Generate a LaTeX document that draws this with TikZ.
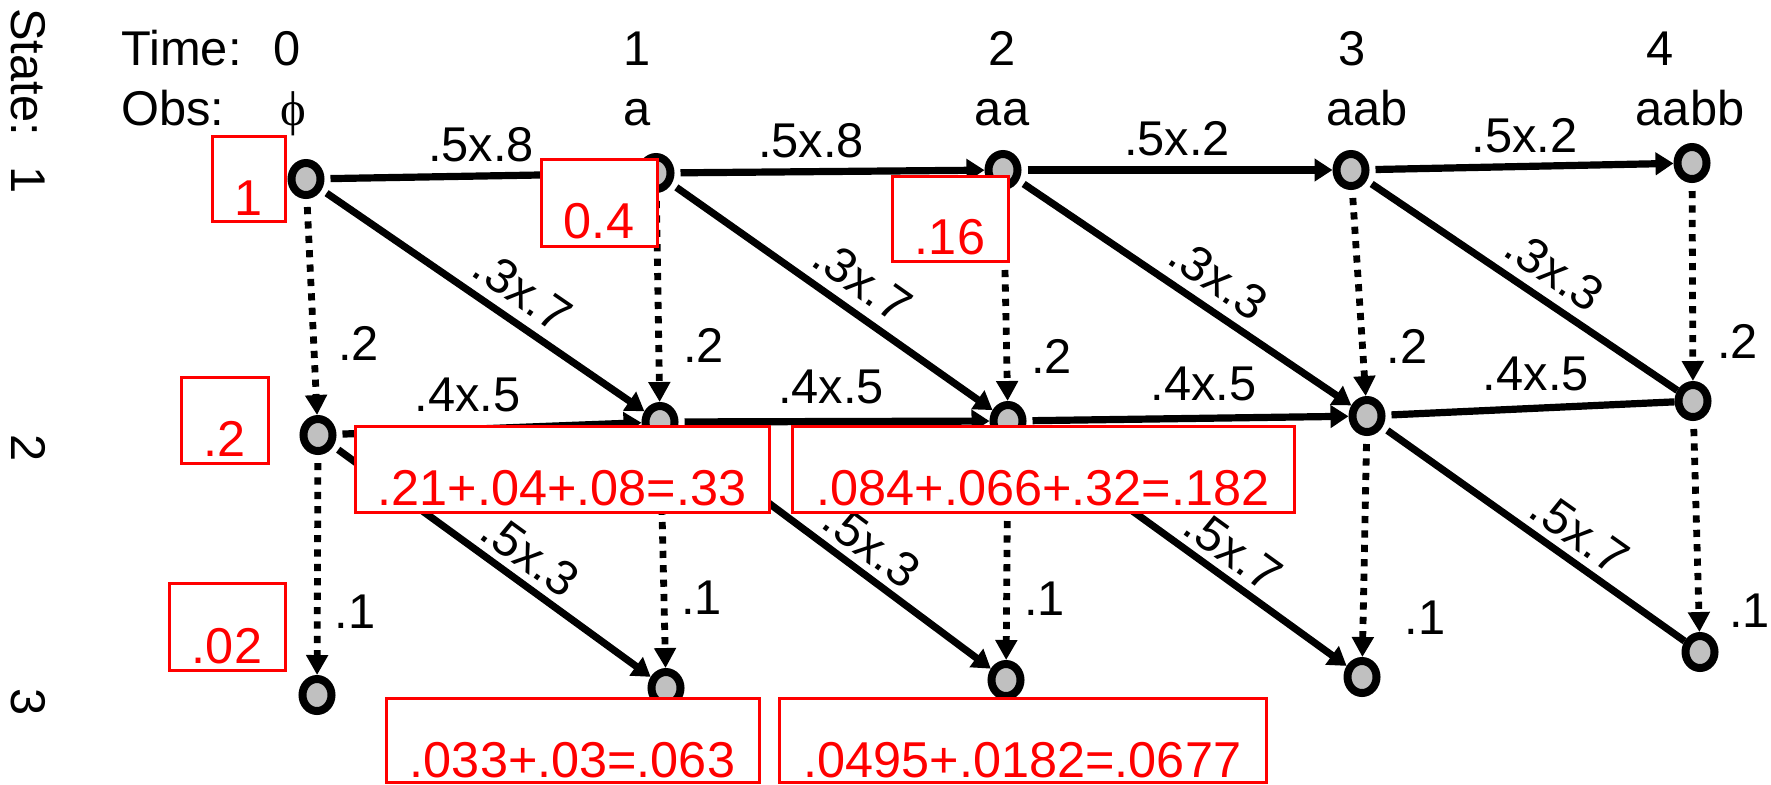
\documentclass[tikz,border=0pt]{standalone}
\usepackage{fontspec}
\setmainfont{Liberation Sans}
\newfontfamily\phifont{Liberation Serif}
\usetikzlibrary{arrows.meta,shapes.geometric,fit}
\definecolor{stategray}{RGB}{192,192,192}
\begin{document}
\begin{tikzpicture}[x=0.5pt,y=-0.5pt,
  txt/.style={font=\fontsize{24.4}{29}\selectfont, inner sep=2pt},
  st/.style={ellipse, draw=black, fill=stategray, line width=4pt,
    minimum width=14.5pt, minimum height=16pt, inner sep=0pt},
  tr/.style={line width=3.6pt, -{Triangle[length=9pt,width=11pt]}, shorten <=3pt},
  trn/.style={line width=3.6pt, shorten <=3pt},
  ob/.style={line width=3.4pt, dash pattern=on 3.6pt off 3.6pt,
    -{Triangle[length=10pt,width=10.5pt]}, shorten <=4pt},
  hl/.style={txt, above=3pt},
  hlb/.style={txt, above=5pt},
  dl/.style={txt, above=3pt, sloped},
  dlb/.style={txt, above=1.5pt, sloped},
  vla/.style={txt, right=8.5pt},
  vlb/.style={txt, right=5pt},
  rbox/.style={draw=red, line width=1.5pt, fill=white, inner sep=0pt},
  rtxt/.style={font=\fontsize{25.2}{30}\selectfont, inner sep=0pt, text=red, anchor=base},
  rowlab/.style={txt, rotate=-90, anchor=base}
]
\useasboundingbox (0,0) rectangle (1771,784);

% headers
\node[rowlab] (statehd) at (11,72) {State:};
\node[rowlab] (row1) at (11,180) {1};
\node[rowlab] (row2) at (11,448) {2};
\node[rowlab] (row3) at (11,702) {3};
\node[txt, anchor=base west] (timehd) at (117,65) {Time:};
\node[txt, anchor=base] (t0) at (287,65) {0};
\node[txt, anchor=base] (t1) at (637,65) {1};
\node[txt, anchor=base] (t2) at (1002,65) {2};
\node[txt, anchor=base] (t3) at (1352,65) {3};
\node[txt, anchor=base] (t4) at (1660,65) {4};
\node[txt, anchor=base west] (obshd) at (117,125) {Obs:};
\node[txt, anchor=base] (o0) at (293,125) {\phifont ϕ};
\node[txt, anchor=base] (o1) at (637,125) {a};
\node[txt, anchor=base] (o2) at (1002,125) {aa};
\node[txt, anchor=base] (o3) at (1367,125) {aab};
\node[txt, anchor=base] (o4) at (1690,125) {aabb};

% states
\node[st] (a1) at (306,179) {};
\node[st] (a2) at (656,173) {};
\node[st] (a3) at (1003,170) {};
\node[st] (a4) at (1351,170) {};
\node[st] (a5) at (1692,163) {};
\node[st] (b1) at (318,435) {};
\node[st] (b2) at (660,422) {};
\node[st] (b3) at (1008,421) {};
\node[st] (b4) at (1367,416) {};
\node[st] (b5) at (1693,401) {};
\node[st] (c1) at (317,695) {};
\node[st] (c2) at (666,688) {};
\node[st] (c3) at (1006,680) {};
\node[st] (c4) at (1362,677) {};
\node[st] (c5) at (1700,652) {};

% row 1 transitions
\draw[tr] (a1) -- node[hl, pos=0.5] {.5x.8} (a2);
\draw[tr] (a2) -- node[hl, pos=0.44] {.5x.8} (a3);
\draw[tr] (a3) -- node[hl, pos=0.5] {.5x.2} (a4);
\draw[tr] (a4) -- node[hl, pos=0.51] {.5x.2} (a5);
% row 1 -> row 2
\draw[tr] (a1) -- node[dl, pos=0.57] {.3x.7} (b2);
\draw[tr] (a2) -- node[dl, pos=0.54] {.3x.7} (b3);
\draw[tr] (a3) -- node[dl, pos=0.55] {.3x.3} (b4);
\draw[trn] (a4) -- node[dl, pos=0.55] {.3x.3} (b5);
% row 2 transitions
\draw[tr] (b1) -- node[hlb, pos=0.43] {.4x.5} (b2);
\draw[tr] (b2) -- node[hlb, pos=0.49] {.4x.5} (b3);
\draw[tr] (b3) -- node[hlb, pos=0.55] {.4x.5} (b4);
\draw[trn] (b4) -- node[hlb, pos=0.52] {.4x.5} (b5);
% row 2 -> row 3
\draw[tr] (b1) -- node[dlb, pos=0.57] {.5x.3} (c2);
\draw[tr] (b2) -- node[dlb, pos=0.57] {.5x.3} (c3);
\draw[tr] (b3) -- node[dlb, pos=0.6] {.5x.7} (c4);
\draw[trn] (b4) -- node[dlb, pos=0.6] {.5x.7} (c5);
% dotted (null) transitions
\draw[ob] (a1) -- node[vla, pos=0.67] {.2} (b1);
\draw[ob] (a2) -- node[vla, pos=0.73] {.2} (b2);
\draw[ob] (a3) -- node[vla, pos=0.79] {.2} (b3);
\draw[ob] (a4) -- node[vla, pos=0.76] {.2} (b4);
\draw[ob] (a5) -- node[vla, pos=0.8] {.2} (b5);
\draw[ob] (b1) -- node[vlb, pos=0.71] {.1} (c1);
\draw[ob] (b2) -- node[vlb, pos=0.69] {.1} (c2);
\draw[ob] (b3) -- node[vlb, pos=0.72] {.1} (c3);
\draw[ob] (b4) -- node[vlb, right=12pt, pos=0.82] {.1} (c4);
\draw[ob] (b5) -- node[vlb, right=6.5pt, pos=0.9] {.1} (c5);

% red probability boxes
\node[rbox, fit={(212,136) (285,221)}] (r1) {};
\node[rtxt] (r1t) at (248.5,215) {1};
\node[rbox, fit={(541,159) (657,246)}] (r2) {};
\node[rtxt] (r2t) at (599,238) {0.4};
\node[rbox, fit={(892,176) (1008,261)}] (r3) {};
\node[rtxt] (r3t) at (950,254) {.16};
\node[rbox, fit={(181,377) (268,463)}] (r4) {};
\node[rtxt] (r4t) at (224.5,456) {.2};
\node[rbox, fit={(169,583) (285,670)}] (r5) {};
\node[rtxt] (r5t) at (227,663) {.02};
\node[rbox, fit={(355,426) (769,512)}] (r6) {};
\node[rtxt] (r6t) at (562,505) {.21+.04+.08=.33};
\node[rbox, fit={(792,426) (1294,512)}] (r7) {};
\node[rtxt] (r7t) at (1043,505) {.084+.066+.32=.182};
\node[rbox, fit={(386,698) (759,782)}] (r8) {};
\node[rtxt] (r8t) at (572.5,777) {.033+.03=.063};
\node[rbox, fit={(779,698) (1266,782)}] (r9) {};
\node[rtxt] (r9t) at (1022.5,777) {.0495+.0182=.0677};
\end{tikzpicture}
\end{document}
